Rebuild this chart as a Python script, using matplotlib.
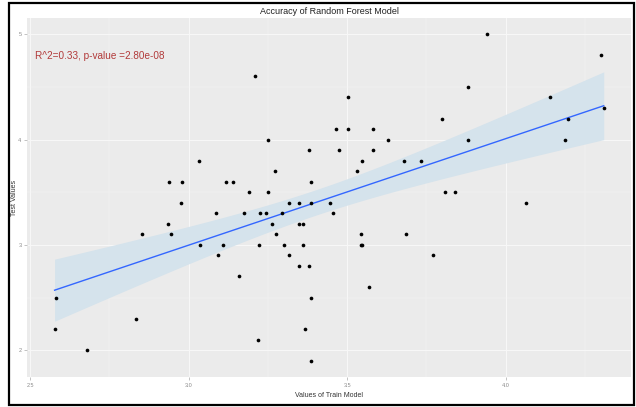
import numpy as np
import matplotlib
matplotlib.use("Agg")
import matplotlib.pyplot as plt
from matplotlib.patches import Rectangle

# ---- data ----
train_values = [2.577, 2.583, 2.679, 2.833, 2.854, 2.935, 2.937, 2.943, 2.975, 2.978,
                3.034, 3.035, 3.085, 3.091, 3.107, 3.117, 3.139, 3.159, 3.173, 3.191,
                3.210, 3.219, 3.222, 3.226, 3.245, 3.249, 3.249, 3.263, 3.273, 3.274,
                3.293, 3.301, 3.316, 3.316, 3.347, 3.348, 3.359, 3.348, 3.362, 3.366,
                3.379, 3.380, 3.385, 3.385, 3.387, 3.385, 3.446, 3.454, 3.464, 3.473,
                3.501, 3.503, 3.530, 3.544, 3.544, 3.548, 3.548, 3.568, 3.580, 3.580,
                3.629, 3.678, 3.686, 3.733, 3.771, 3.800, 3.807, 3.839, 3.882, 3.881,
                3.940, 4.063, 4.139, 4.188, 4.197, 4.301, 4.309]
test_values = [2.2, 2.5, 2.0, 2.3, 3.1, 3.2, 3.6, 3.1, 3.4, 3.6,
               3.8, 3.0, 3.3, 2.9, 3.0, 3.6, 3.6, 2.7, 3.3, 3.5,
               4.6, 2.1, 3.0, 3.3, 3.3, 4.0, 3.5, 3.2, 3.7, 3.1,
               3.3, 3.0, 3.4, 2.9, 3.4, 3.2, 3.2, 2.8, 3.0, 2.2,
               2.8, 3.9, 3.6, 3.4, 2.5, 1.9, 3.4, 3.3, 4.1, 3.9,
               4.1, 4.4, 3.7, 3.1, 3.0, 3.0, 3.8, 2.6, 4.1, 3.9,
               4.0, 3.8, 3.1, 3.8, 2.9, 4.2, 3.5, 3.5, 4.5, 4.0,
               5.0, 3.4, 4.4, 4.0, 4.2, 4.8, 4.3]
x_ticks = [2.5, 3.0, 3.5, 4.0]
x_tick_labels = ["2.5", "3.0", "3.5", "4.0"]
y_ticks = [2, 3, 4, 5]
y_tick_labels = ["2", "3", "4", "5"]
title = "Accuracy of Random Forest Model"
x_label = "Values of Train Model"
y_label = "Test Values"
annotation = "R^2=0.33, p-value =2.80e-08"

plt.rcParams['font.family'] = ['Liberation Sans', 'DejaVu Sans']

x = np.array(train_values)
y = np.array(test_values)

# linear fit with 95% confidence band
n = len(x)
slope, intercept = np.polyfit(x, y, 1)
xs = np.linspace(x.min(), x.max(), 200)
ys = intercept + slope * xs
resid = y - (intercept + slope * x)
s = np.sqrt(np.sum(resid ** 2) / (n - 2))
sxx = np.sum((x - x.mean()) ** 2)
t_crit = 1.992
se = s * np.sqrt(1.0 / n + (xs - x.mean()) ** 2 / sxx)
lo, hi = ys - t_crit * se, ys + t_crit * se

fig = plt.figure(figsize=(6.36, 4.07), dpi=100)
fig.patch.set_facecolor("white")
# outer black frame of the screenshot
fig.patches.append(Rectangle((9 / 636, 2 / 407), 625 / 636, 402 / 407,
                             transform=fig.transFigure, fill=False,
                             edgecolor="black", linewidth=1.6))

ax = fig.add_axes([27 / 636, 1 - 377 / 407, 604 / 636, 359 / 407])
ax.set_facecolor("#ebebeb")
for sp in ax.spines.values():
    sp.set_visible(False)

ax.set_xlim(2.49, 4.395)
ax.set_ylim(1.745, 5.155)

ax.set_xticks(x_ticks)
ax.set_xticklabels(x_tick_labels)
ax.set_yticks(y_ticks)
ax.set_yticklabels(y_tick_labels)
ax.set_xticks([2.75, 3.25, 3.75, 4.25], minor=True)
ax.set_yticks([2.5, 3.5, 4.5], minor=True)
ax.grid(which="major", color="#f8f8f8", linewidth=0.7)
ax.grid(which="minor", color="#f4f4f4", linewidth=0.35)
ax.set_axisbelow(True)
ax.tick_params(which="major", length=2, width=0.5, color="#aaaaaa",
               labelsize=4, labelcolor="#8a8a8a", pad=2)
ax.tick_params(which="minor", length=0)

ax.fill_between(xs, lo, hi, color="#d5e3ec", linewidth=0, zorder=2)
ax.plot(xs, ys, color="#3366ff", linewidth=1.0, zorder=3)
ax.scatter(x, y, s=7, color="black", linewidths=0, zorder=4)

ax.text(2.516, 4.79, annotation, color="#b23a3a", fontsize=7.2,
        ha="left", va="center")

ax.set_title(title, fontsize=6.5, color="#222222", pad=3)
ax.set_xlabel(x_label, fontsize=5, color="#333333", labelpad=3)
ax.set_ylabel(y_label, fontsize=5, color="#333333")
ax.yaxis.set_label_coords(-9 / 604, 0.5)

fig.savefig("out.png", dpi=100)
